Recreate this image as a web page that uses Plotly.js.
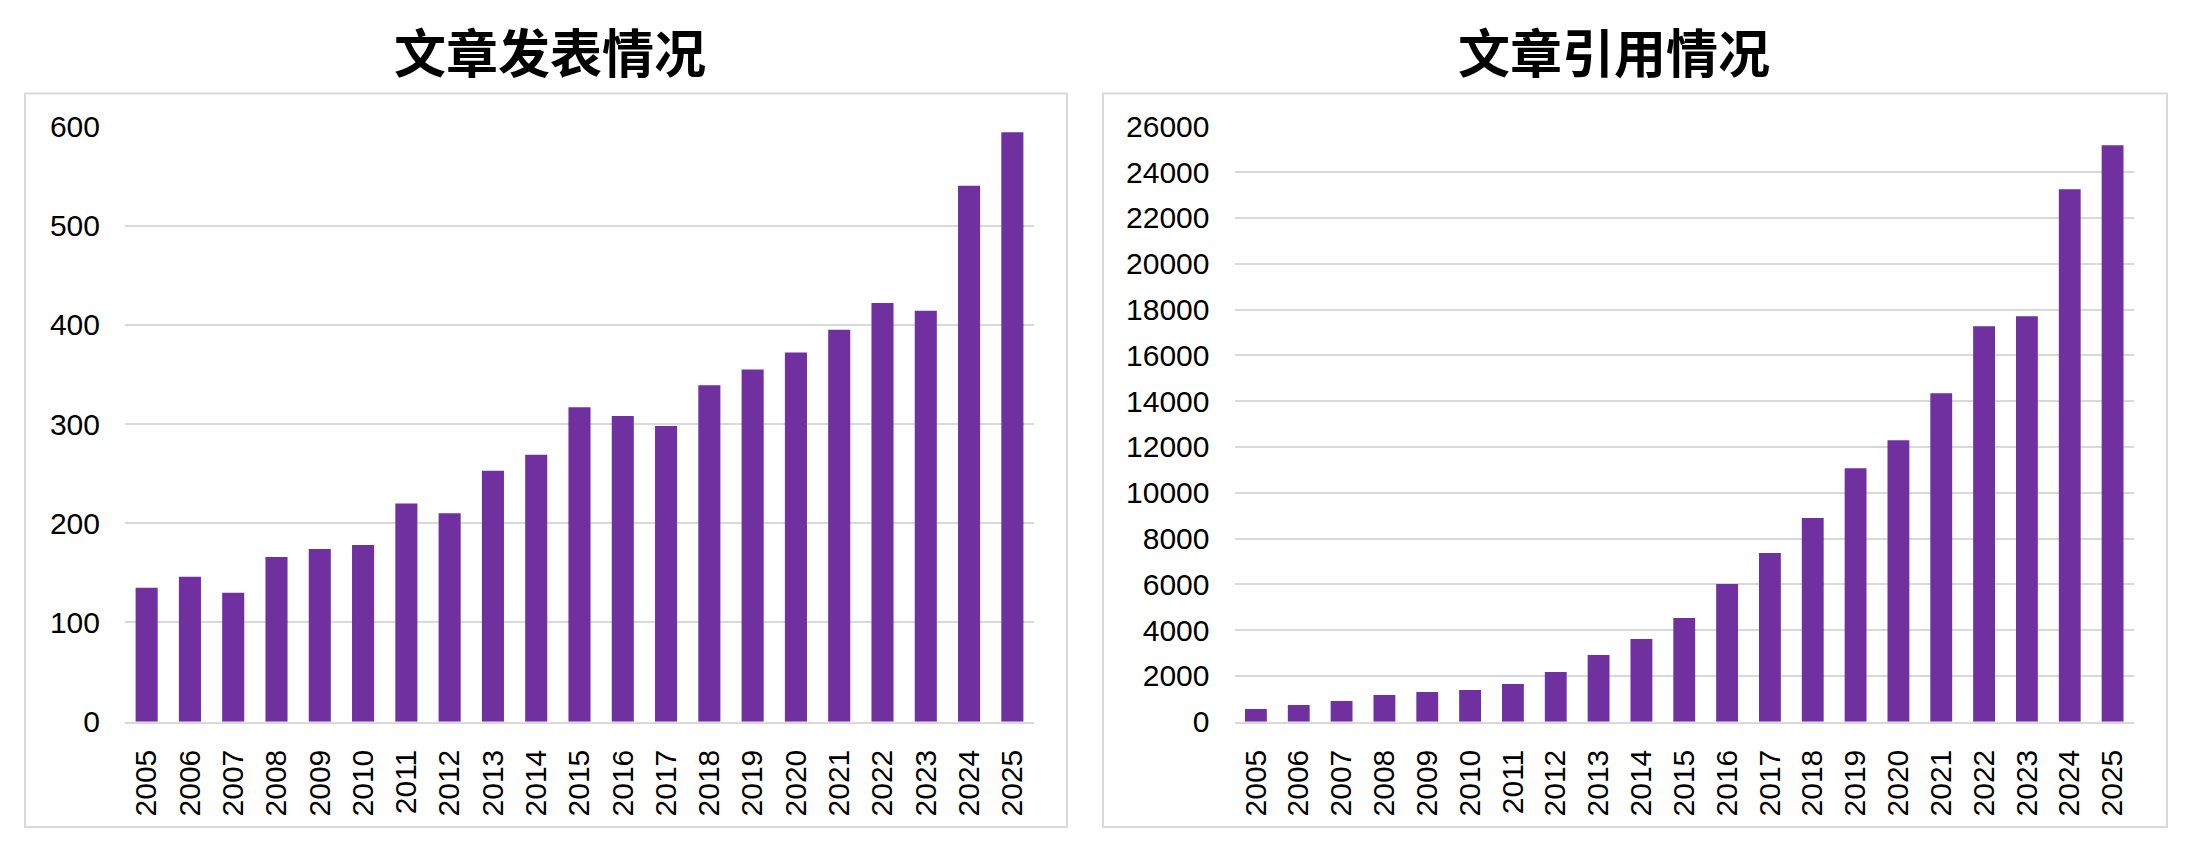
<!DOCTYPE html>
<html>
<head>
<meta charset="utf-8">
<script src="https://cdn.plot.ly/plotly-3.0.1.min.js"></script>
<style>
  html, body { margin: 0; padding: 0; background: #ffffff; }
  #chart { width: 2186px; height: 858px; }
</style>
</head>
<body>
<div id="chart"></div>
<script>
// ---- Data ----
const years = ["2005","2006","2007","2008","2009","2010","2011","2012","2013","2014","2015",
               "2016","2017","2018","2019","2020","2021","2022","2023","2024","2025"];
const publications = [135, 146, 130, 166, 174, 178, 220, 210, 253, 269, 317,
                      308, 298, 339, 355, 372, 395, 422, 414, 540, 594];
const citations = [550, 730, 900, 1165, 1300, 1385, 1645, 2170, 2910, 3610, 4525,
                   6010, 7365, 8890, 11070, 12295, 14345, 17270, 17705, 23250, 25170];
const titleLeft = "文章发表情况";
const titleRight = "文章引用情况";
const yTicksLeft = [0, 100, 200, 300, 400, 500, 600];
const yTicksRight = [0, 2000, 4000, 6000, 8000, 10000, 12000, 14000, 16000, 18000, 20000, 22000, 24000, 26000];

// ---- Layout helpers (pixel -> paper) ----
const W = 2186, H = 858;
const px = v => v / W;
const py = v => 1 - v / H;

const barColor = "#7030A0";
const gridColor = "#d9d9d9";
const tickFont = { family: "Liberation Sans, Arial, sans-serif", size: 30, color: "#000000" };

const traces = [
  { type: "bar", x: years, y: publications, xaxis: "x", yaxis: "y",
    marker: { color: barColor }, hoverinfo: "x+y" },
  { type: "bar", x: years, y: citations, xaxis: "x2", yaxis: "y2",
    marker: { color: barColor }, hoverinfo: "x+y" }
];

function xAxis(domain, anchor) {
  return {
    domain: domain, anchor: anchor, type: "category",
    tickangle: -90, tickfont: tickFont, showgrid: false, zeroline: false,
    showline: true, linecolor: gridColor, linewidth: 2,
    ticks: "", ticklabelstandoff: 14, fixedrange: true
  };
}
function yAxis(domain, anchor, range, vals) {
  return {
    domain: domain, anchor: anchor, range: range,
    tickmode: "array", tickvals: vals, ticktext: vals.map(String),
    tickfont: tickFont, showgrid: true, gridcolor: gridColor, gridwidth: 2,
    zeroline: false, showline: false, ticks: "", ticklabelstandoff: 24, fixedrange: true
  };
}

const yDom = [py(721.7), py(126.3)];

const layout = {
  width: W, height: H,
  margin: { l: 0, r: 0, t: 0, b: 0, pad: 0 },
  paper_bgcolor: "#ffffff", plot_bgcolor: "#ffffff",
  showlegend: false, bargap: 0.49,
  font: { family: "Liberation Sans, Arial, sans-serif", color: "#000000" },
  xaxis: xAxis([px(125), px(1034)], "y"),
  yaxis: yAxis(yDom, "x", [0, 600], yTicksLeft),
  xaxis2: xAxis([px(1234.5), px(2134)], "y2"),
  yaxis2: yAxis(yDom, "x2", [0, 26000], yTicksRight),
  shapes: [
    { type: "rect", xref: "paper", yref: "paper", x0: px(25), x1: px(1067), y0: py(827), y1: py(93.5),
      line: { color: gridColor, width: 2 }, fillcolor: "rgba(0,0,0,0)", layer: "below" },
    { type: "rect", xref: "paper", yref: "paper", x0: px(1103), x1: px(2167), y0: py(827), y1: py(93.5),
      line: { color: gridColor, width: 2 }, fillcolor: "rgba(0,0,0,0)", layer: "below" }
  ],
  annotations: [
    { text: "<b>" + titleLeft + "</b>", xref: "paper", yref: "paper", x: px(550), y: py(50),
      xanchor: "center", yanchor: "middle", showarrow: false,
      font: { family: "Noto Sans CJK SC, sans-serif", size: 52, color: "#000000" } },
    { text: "<b>" + titleRight + "</b>", xref: "paper", yref: "paper", x: px(1613.5), y: py(50),
      xanchor: "center", yanchor: "middle", showarrow: false,
      font: { family: "Noto Sans CJK SC, sans-serif", size: 52, color: "#000000" } }
  ]
};

Plotly.newPlot("chart", traces, layout, { displayModeBar: false, staticPlot: true });
</script>
</body>
</html>
